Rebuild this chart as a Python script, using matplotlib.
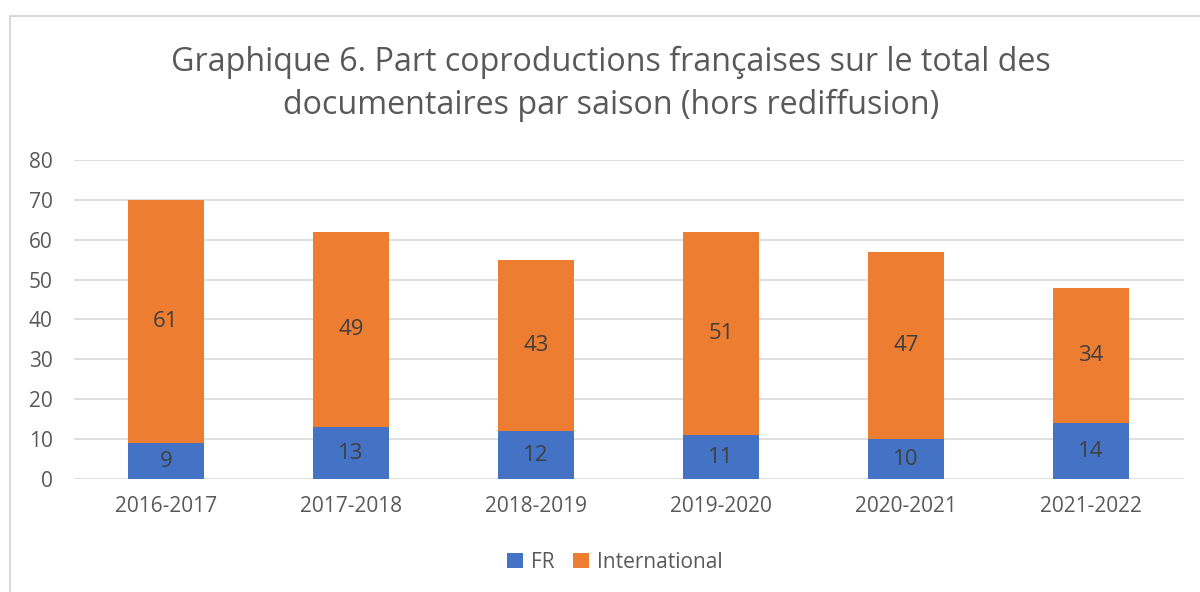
import matplotlib
matplotlib.use("Agg")
from matplotlib import pyplot as plt
from matplotlib.patches import Rectangle
import numpy as np

saisons = ["2016-2017", "2017-2018", "2018-2019", "2019-2020", "2020-2021", "2021-2022"]
fr = [9, 13, 12, 11, 10, 14]
international = [61, 49, 43, 51, 47, 34]

grey = "#595959"
plt.rcParams['font.family'] = ['Open Sans', 'DejaVu Sans']

fig = plt.figure(figsize=(12, 5.92), dpi=100)
ax = fig.add_axes([0.06125, 0.1909, 0.925, 0.5389])

# chart frame
fig.patches.append(Rectangle((10 / 1200, -0.1), 1.2, 1 - 16 / 592 + 0.1,
                             transform=fig.transFigure, fill=False,
                             edgecolor="#D9D9D9", linewidth=1.5))

x = np.arange(len(saisons))
b1 = ax.bar(x, fr, width=0.41, color="#4472C4", label="FR", zorder=3)
b2 = ax.bar(x, international, width=0.41, bottom=fr, color="#ED7D31",
            label="International", zorder=3)
ax.bar_label(b1, label_type="center", fontsize=16, color="#404040")
ax.bar_label(b2, label_type="center", fontsize=16, color="#404040")

ax.set_xlim(-0.5, len(saisons) - 0.5)
ax.set_ylim(0, 80)
ax.set_yticks(range(0, 81, 10))
ax.set_xticks(x)
ax.set_xticklabels(saisons)
ax.tick_params(axis="both", length=0, labelsize=15, colors=grey)
ax.tick_params(axis="y", pad=15)
ax.tick_params(axis="x", pad=12)
ax.grid(axis="y", color="#D9D9D9", linewidth=1.2, zorder=0)
for s in ax.spines.values():
    s.set_visible(False)

fig.text(611 / 1200, 1 - 84 / 592, "Graphique 6. Part coproductions françaises sur le total des\ndocumentaires par saison (hors rediffusion)",
         ha="center", va="center", fontsize=23.2, color=grey, linespacing=1.36)

ax.legend(loc="center", bbox_to_anchor=(615 / 1200, (592 - 562) / 592), bbox_transform=fig.transFigure,
          ncol=2, frameon=False, fontsize=15, labelcolor=grey, handlelength=0.75,
          handleheight=0.75, handletextpad=0.4, columnspacing=0.9)

fig.savefig("out.png", dpi=100)
